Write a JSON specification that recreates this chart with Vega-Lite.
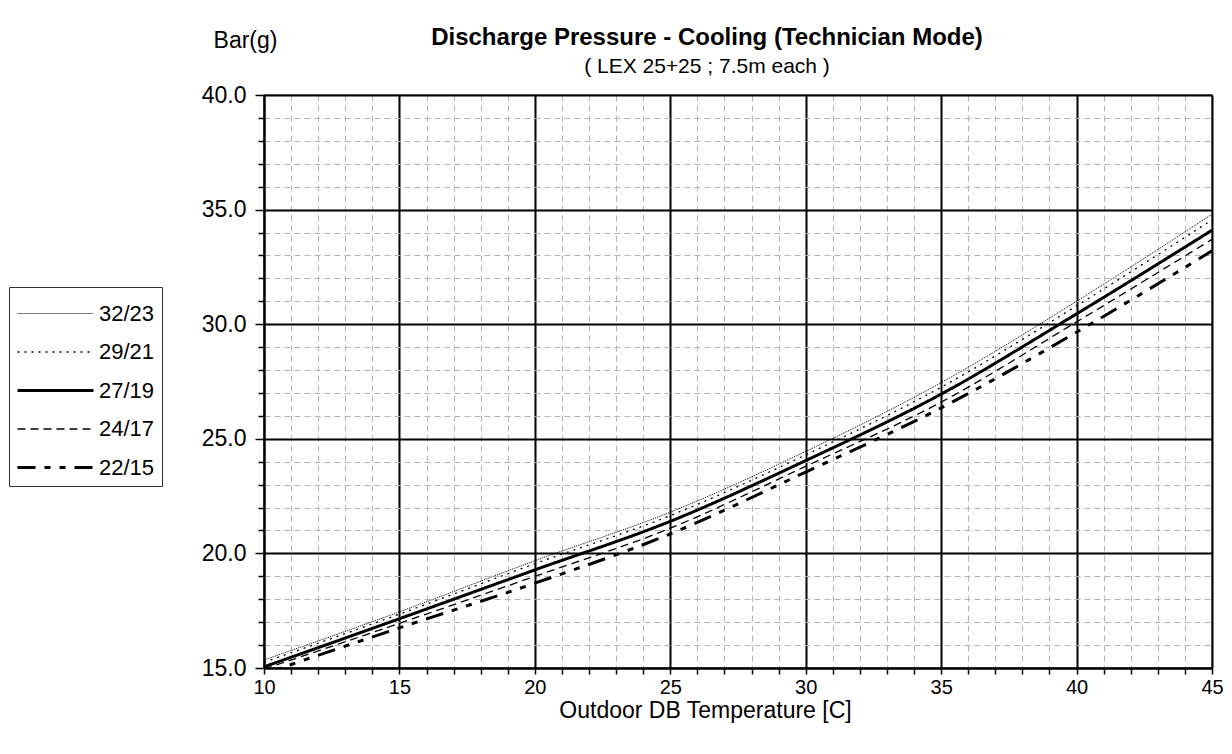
{
  "$schema": "https://vega.github.io/schema/vega-lite/v6.json",
  "width": 948,
  "height": 573,
  "autosize": "none",
  "padding": {"left": 264, "top": 95, "right": 20, "bottom": 86},
  "background": "white",
  "title": {
    "text": "Discharge Pressure - Cooling (Technician Mode)",
    "subtitle": "( LEX 25+25 ; 7.5m each )",
    "font": "Liberation Sans",
    "fontSize": 24,
    "fontWeight": "bold",
    "subtitleFont": "Liberation Sans",
    "subtitleFontSize": 21,
    "subtitlePadding": 6,
    "color": "black",
    "subtitleColor": "black",
    "anchor": "middle",
    "dx": -31,
    "offset": -48
  },
  "data": {
    "values": [
      {"t": 10, "p": 15.35, "series": "32/23"},
      {"t": 15, "p": 17.45, "series": "32/23"},
      {"t": 20, "p": 19.68, "series": "32/23"},
      {"t": 25, "p": 21.8, "series": "32/23"},
      {"t": 30, "p": 24.45, "series": "32/23"},
      {"t": 35, "p": 27.45, "series": "32/23"},
      {"t": 40, "p": 31.0, "series": "32/23"},
      {"t": 45, "p": 34.8, "series": "32/23"},
      {"t": 10, "p": 15.25, "series": "29/21"},
      {"t": 15, "p": 17.35, "series": "29/21"},
      {"t": 20, "p": 19.55, "series": "29/21"},
      {"t": 25, "p": 21.65, "series": "29/21"},
      {"t": 30, "p": 24.3, "series": "29/21"},
      {"t": 35, "p": 27.25, "series": "29/21"},
      {"t": 40, "p": 30.8, "series": "29/21"},
      {"t": 45, "p": 34.55, "series": "29/21"},
      {"t": 10, "p": 15.05, "series": "27/19"},
      {"t": 15, "p": 17.15, "series": "27/19"},
      {"t": 20, "p": 19.28, "series": "27/19"},
      {"t": 25, "p": 21.4, "series": "27/19"},
      {"t": 30, "p": 24.05, "series": "27/19"},
      {"t": 35, "p": 26.95, "series": "27/19"},
      {"t": 40, "p": 30.45, "series": "27/19"},
      {"t": 45, "p": 34.1, "series": "27/19"},
      {"t": 10, "p": 14.95, "series": "24/17"},
      {"t": 15, "p": 16.95, "series": "24/17"},
      {"t": 20, "p": 19.0, "series": "24/17"},
      {"t": 25, "p": 21.1, "series": "24/17"},
      {"t": 30, "p": 23.8, "series": "24/17"},
      {"t": 35, "p": 26.6, "series": "24/17"},
      {"t": 40, "p": 30.1, "series": "24/17"},
      {"t": 45, "p": 33.7, "series": "24/17"},
      {"t": 10, "p": 14.75, "series": "22/15"},
      {"t": 15, "p": 16.75, "series": "22/15"},
      {"t": 20, "p": 18.7, "series": "22/15"},
      {"t": 25, "p": 20.85, "series": "22/15"},
      {"t": 30, "p": 23.55, "series": "22/15"},
      {"t": 35, "p": 26.35, "series": "22/15"},
      {"t": 40, "p": 29.65, "series": "22/15"},
      {"t": 45, "p": 33.2, "series": "22/15"}
    ]
  },
  "mark": {"type": "line", "color": "black", "interpolate": "monotone", "clip": true},
  "encoding": {
    "x": {
      "field": "t",
      "type": "quantitative",
      "scale": {"domain": [10, 45], "nice": false, "zero": false},
      "axis": {
        "title": "Outdoor DB Temperature [C]",
        "titleX": 441,
        "values": [10,11,12,13,14,15,16,17,18,19,20,21,22,23,24,25,26,27,28,29,30,31,32,33,34,35,36,37,38,39,40,41,42,43,44,45],
        "labelExpr": "datum.value % 5 === 0 ? datum.value : ''",
        "grid": true,
        "gridColor": {"condition": {"test": "datum.value % 5 === 0", "value": "black"}, "value": "#b4b4b4"},
        "gridDash": {"condition": {"test": "datum.value % 5 === 0", "value": [1, 0]}, "value": [6, 4]},
        "gridWidth": {"condition": {"test": "datum.value % 5 === 0", "value": 2}, "value": 1},
        "tickSize": 6,
        "labelFontSize": 20,
        "labelPadding": 3,
        "titlePadding": 2,
        "titleFontSize": 23
      }
    },
    "y": {
      "field": "p",
      "type": "quantitative",
      "scale": {"domain": [15, 40], "nice": false, "zero": false},
      "axis": {
        "title": "Bar(g)",
        "titleAngle": 0,
        "titleAlign": "center",
        "titleBaseline": "middle",
        "titleX": -19,
        "titleY": -55,
        "titleFontSize": 23,
        "values": [15,16,17,18,19,20,21,22,23,24,25,26,27,28,29,30,31,32,33,34,35,36,37,38,39,40],
        "labelExpr": "datum.value % 5 === 0 ? format(datum.value, '.1f') : ''",
        "grid": true,
        "gridColor": {"condition": {"test": "datum.value % 5 === 0", "value": "black"}, "value": "#b4b4b4"},
        "gridDash": {"condition": {"test": "datum.value % 5 === 0", "value": [1, 0]}, "value": [6, 4]},
        "gridWidth": {"condition": {"test": "datum.value % 5 === 0", "value": 2}, "value": 1},
        "tickSize": {"condition": {"test": "datum.value % 5 === 0", "value": 9}, "value": 6},
        "labelFontSize": 23,
        "labelPadding": 9
      }
    },
    "strokeDash": {
      "field": "series",
      "type": "ordinal",
      "scale": {
        "type": "ordinal",
        "domain": ["32/23", "29/21", "27/19", "24/17", "22/15"],
        "range": [[1, 1], [2, 5], [1, 0], [8, 5], [18, 9, 6, 9, 6, 9]]
      },
      "legend": {"title": null}
    },
    "strokeWidth": {
      "field": "series",
      "type": "ordinal",
      "scale": {
        "type": "ordinal",
        "domain": ["32/23", "29/21", "27/19", "24/17", "22/15"],
        "range": [1, 1.3, 3, 1.3, 3]
      },
      "legend": {"title": null}
    }
  },
  "config": {
    "font": "Liberation Sans",
    "view": {"stroke": "#808080", "strokeWidth": 1.5},
    "axis": {
      "labelFont": "Liberation Sans",
      "titleFont": "Liberation Sans",
      "labelFontSize": 22,
      "titleFontSize": 22,
      "titleFontWeight": "normal",
      "labelColor": "black",
      "titleColor": "black",
      "domainColor": "black",
      "domainWidth": 2,
      "tickColor": "black",
      "tickWidth": 1.5,
      "labelFlush": false
    },
    "legend": {
      "orient": "none",
      "legendX": -255,
      "legendY": 192,
      "direction": "vertical",
      "strokeColor": "#333333",
      "fillColor": "white",
      "padding": 7,
      "symbolType": "M-2,0H2",
      "symbolSize": 1444,
      "symbolOffset": 19,
      "symbolStrokeColor": "black",
      "labelFont": "Liberation Sans",
      "labelFontSize": 22,
      "labelColor": "black",
      "labelOffset": 23,
      "rowPadding": 7
    }
  }
}
